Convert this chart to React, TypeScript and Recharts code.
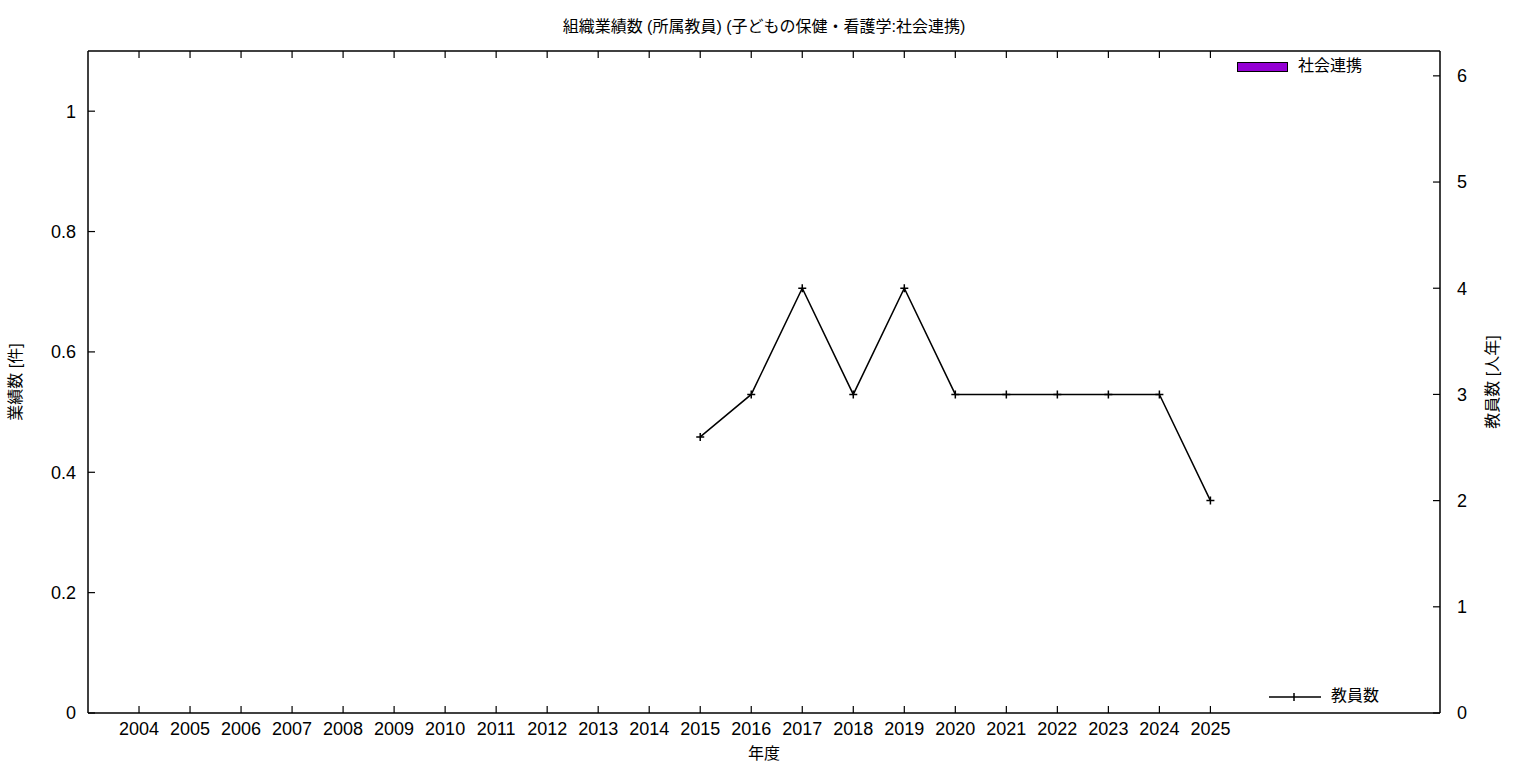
import { ComposedChart, Bar, Line, XAxis, YAxis, Legend, Label } from "recharts"

const years = [2004, 2005, 2006, 2007, 2008, 2009, 2010, 2011, 2012, 2013, 2014, 2015, 2016, 2017, 2018, 2019, 2020, 2021, 2022, 2023, 2024, 2025]
const socialLinks = [0, 0, 0, 0, 0, 0, 0, 0, 0, 0, 0, 0, 0, 0, 0, 0, 0, 0, 0, 0, 0, 0]
const staff: (number | null)[] = [null, null, null, null, null, null, null, null, null, null, null, 2.6, 3, 4, 3, 4, 3, 3, 3, 3, 3, 2]
const leftTicks = [0, 0.2, 0.4, 0.6, 0.8, 1]
const rightTicks = [0, 1, 2, 3, 4, 5, 6]

const data = years.map((y, i) => ({ year: y, social: socialLinks[i], staff: staff[i] }))

const FONT = '"Liberation Sans", "Noto Sans CJK JP", sans-serif'
const BAR_COLOR = "#9400d3"

const PlusDot = (props: any) => {
  const { cx, cy, value } = props
  if (value == null || cx == null || cy == null) return null
  return (
    <path d={`M${cx - 4},${cy}H${cx + 4}M${cx},${cy - 4}V${cy + 4}`} stroke="#000" strokeWidth={1.5} fill="none" />
  )
}

// legend sits at fixed spots like the original, zero-size so it doesn't eat plot space
const LegendBox = () => (
  <div style={{ position: "relative", width: 0, height: 0, fontFamily: FONT, fontSize: 16, color: "#000" }}>
    <div style={{ position: "absolute", left: 1237, top: 62, width: 49, height: 8, background: BAR_COLOR, border: "1px solid #000" }} />
    <span style={{ position: "absolute", left: 1298, top: 56, lineHeight: "20px", whiteSpace: "nowrap" }}>社会連携</span>
    <svg style={{ position: "absolute", left: 1268, top: 690 }} width={54} height={14}>
      <path d="M1,7H53M26,3V11" stroke="#000" strokeWidth={1.5} />
    </svg>
    <span style={{ position: "absolute", left: 1331, top: 686, lineHeight: "20px", whiteSpace: "nowrap" }}>教員数</span>
  </div>
)

export default function App() {
  const tickStyle = { fontSize: 18, fill: "#000", fontFamily: FONT }
  const titleStyle = { fontSize: 16, fill: "#000", fontFamily: FONT }
  return (
    <div style={{ position: "fixed", left: 0, top: 0, width: 1536, height: 768, background: "#fff" }}>
      <div style={{ position: "absolute", left: 0, top: 13, width: 1528, textAlign: "center", fontFamily: FONT, fontSize: 16 }}>
        組織業績数 (所属教員) (子どもの保健・看護学:社会連携)
      </div>
      <ComposedChart width={1536} height={768} data={data} margin={{ top: 50, right: 36, bottom: 15, left: 28 }}>
        <XAxis
          xAxisId="b"
          dataKey="year"
          type="number"
          domain={[2003, 2029.5]}
          ticks={years}
          interval={0}
          tick={tickStyle}
          tickSize={-7}
          tickMargin={16}
          height={40}
          axisLine={{ stroke: "#000", strokeWidth: 1.5 }}
          tickLine={{ stroke: "#000", strokeWidth: 1.2 }}
          allowDataOverflow
        >
          <Label value="年度" position="insideBottom" offset={-6} style={titleStyle} />
        </XAxis>
        <XAxis
          xAxisId="t"
          orientation="top"
          dataKey="year"
          type="number"
          domain={[2003, 2029.5]}
          ticks={years}
          interval={0}
          tick={{ fontSize: 0 }}
          tickFormatter={() => ""}
          tickSize={-7}
          height={1}
          axisLine={{ stroke: "#000", strokeWidth: 1.5 }}
          tickLine={{ stroke: "#000", strokeWidth: 1.2 }}
        />
        <YAxis
          yAxisId="l"
          domain={[0, 1.1]}
          ticks={leftTicks}
          tick={tickStyle}
          tickFormatter={(v: number) => String(v)}
          tickSize={-7}
          tickMargin={19}
          width={60}
          axisLine={{ stroke: "#000", strokeWidth: 1.5 }}
          tickLine={{ stroke: "#000", strokeWidth: 1.2 }}
          allowDataOverflow
        >
          <Label value="業績数 [件]" angle={-90} position="center" dx={-43} style={titleStyle} />
        </YAxis>
        <YAxis
          yAxisId="r"
          orientation="right"
          domain={[0, 6.234]}
          ticks={rightTicks}
          tick={tickStyle}
          tickSize={-7}
          tickMargin={24}
          width={60}
          axisLine={{ stroke: "#000", strokeWidth: 1.5 }}
          tickLine={{ stroke: "#000", strokeWidth: 1.2 }}
          allowDataOverflow
        >
          <Label value="教員数 [人年]" angle={-90} position="center" dx={22} style={titleStyle} />
        </YAxis>
        <Bar xAxisId="b" yAxisId="l" dataKey="social" name="社会連携" fill={BAR_COLOR} stroke="#000" barSize={40} isAnimationActive={false} />
        <Line
          xAxisId="b"
          yAxisId="r"
          dataKey="staff"
          name="教員数"
          stroke="#000"
          strokeWidth={1.5}
          dot={<PlusDot />}
          activeDot={false}
          connectNulls={false}
          isAnimationActive={false}
        />
        <Legend content={<LegendBox />} wrapperStyle={{ position: "absolute", left: 0, top: 0, width: 0, height: 0, overflow: "visible" }} />
      </ComposedChart>
    </div>
  )
}
